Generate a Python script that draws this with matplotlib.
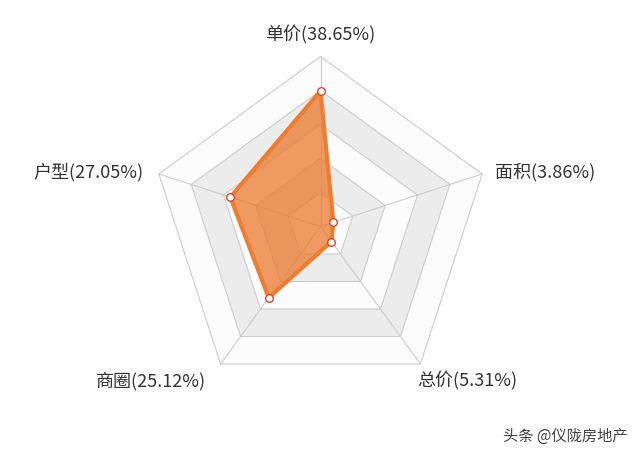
import numpy as np
import matplotlib
matplotlib.use("Agg")
import matplotlib.pyplot as plt

plt.rcParams['font.family'] = ['Noto Sans CJK SC', 'DejaVu Sans']

# data
indicators = ['单价', '面积', '总价', '商圈', '户型']
shares = [38.65, 3.86, 5.31, 25.12, 27.05]
axis_max = 48.5
levels = 5

# layout (pixel space of the 640x457 figure)
cx, cy, R = 320.5, 226.5, 170

fig = plt.figure(figsize=(6.4, 4.57), dpi=100)
ax = fig.add_axes([0, 0, 1, 1])
ax.set_xlim(0, 640)
ax.set_ylim(457, 0)
ax.axis('off')

n = len(indicators)
theta = np.arange(n) * 2 * np.pi / n  # clockwise from top


def xy(r, t):
    return cx + r * np.sin(t), cy - r * np.cos(t)


# split areas, from outside in
band_colors = ['#fcfcfc', '#ececec']
for i in range(levels, 0, -1):
    r = R * i / levels
    px, py = xy(r, theta)
    ax.fill(px, py, color=band_colors[(i - 1) % 2], lw=0, zorder=1)
    ax.plot(np.append(px, px[0]), np.append(py, py[0]), color='#cccccc', lw=0.8, zorder=2)
# spokes
for t in theta:
    px, py = xy(np.array([0, R]), t)
    ax.plot(px, py, color='#cccccc', lw=0.8, zorder=2)

# series
vals = np.array(shares) / axis_max * R
sx, sy = xy(vals, theta)
ax.fill(sx, sy, color='#eb7a2e', alpha=0.75, lw=0, zorder=3)
ax.plot(np.append(sx, sx[0]), np.append(sy, sy[0]), color='#ee7d31', lw=3, zorder=4,
        solid_joinstyle='round')
ax.scatter(sx, sy, s=30, facecolor='white', edgecolor='#d9452b', lw=1, zorder=5)

# labels
fs = 13
labels = ['%s(%.2f%%)' % (a, b) for a, b in zip(indicators, shares)]
ax.text(320, 35, labels[0], ha='center', va='center', fontsize=fs, color='#333333')
ax.text(495, 172, labels[1], ha='left', va='center', fontsize=fs, color='#333333')
ax.text(467, 381, labels[2], ha='center', va='center', fontsize=fs, color='#333333')
ax.text(151, 381, labels[3], ha='center', va='center', fontsize=fs, color='#333333')
ax.text(144, 172, labels[4], ha='right', va='center', fontsize=fs, color='#333333')

# watermark
ax.text(628, 436, '头条 @仪陇房地产', ha='right', va='center', fontsize=11, color='#444444')

fig.savefig('out.png', dpi=100)
